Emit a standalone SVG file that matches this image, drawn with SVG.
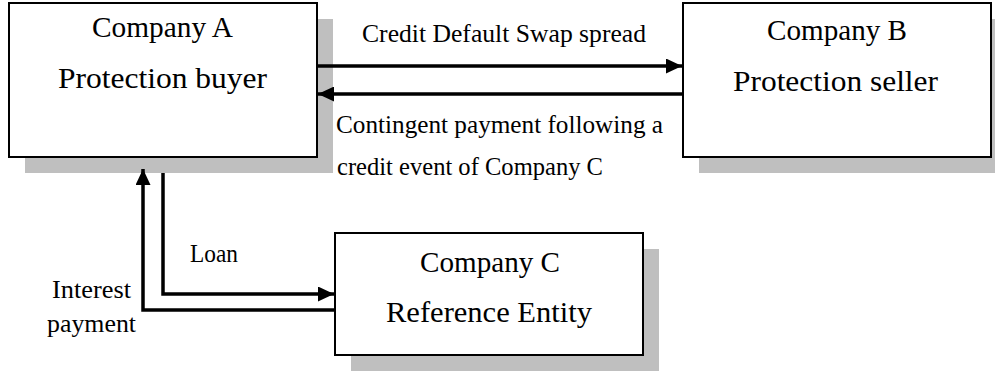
<svg xmlns="http://www.w3.org/2000/svg" width="995" height="372" viewBox="0 0 995 372">
<style>
.shadow{fill:#bfbfbf;stroke:none}
.box{fill:#ffffff;stroke:#000000;stroke-width:2}
.big{font-family:"Liberation Serif","Times New Roman",serif;font-size:30px;fill:#000}
.lbl{font-family:"Liberation Serif","Times New Roman",serif;font-size:24.5px;fill:#000}
.conn{fill:none;stroke:#000;stroke-width:3.5;stroke-linejoin:miter;stroke-linecap:butt}
</style>
<defs>
<marker id="ah" markerUnits="userSpaceOnUse" markerWidth="16" markerHeight="15" refX="16" refY="7.5" orient="auto" viewBox="0 0 16 15">
<path d="M0,0 L16,7.5 L0,15 z" fill="#000"/>
</marker>
</defs>
<rect width="995" height="372" fill="#ffffff"/>
<g id="companyA">
<rect class="shadow" x="25" y="19" width="308" height="154"/>
<rect class="box" x="9" y="3" width="308" height="154"/>
<text class="big" x="92" y="37" textLength="141" lengthAdjust="spacingAndGlyphs">Company A</text>
<text class="big" x="58" y="88" textLength="209" lengthAdjust="spacingAndGlyphs">Protection buyer</text>
</g>
<g id="companyB">
<rect class="shadow" x="699" y="19" width="308" height="154"/>
<rect class="box" x="683" y="3" width="308" height="154"/>
<text class="big" x="767" y="40" textLength="140" lengthAdjust="spacingAndGlyphs">Company B</text>
<text class="big" x="733" y="91" textLength="205" lengthAdjust="spacingAndGlyphs">Protection seller</text>
</g>
<g id="companyC">
<rect class="shadow" x="351" y="249" width="308" height="122"/>
<rect class="box" x="335" y="233" width="308" height="122"/>
<text class="big" x="420" y="272" textLength="140" lengthAdjust="spacingAndGlyphs">Company C</text>
<text class="big" x="386" y="322" textLength="206" lengthAdjust="spacingAndGlyphs">Reference Entity</text>
</g>
<g id="connectors">
<line class="conn" x1="317" y1="66" x2="682" y2="66" marker-end="url(#ah)"/>
<line class="conn" x1="683" y1="94" x2="318" y2="94" marker-end="url(#ah)"/>
<polyline class="conn" points="163,173 163,294 334,294" marker-end="url(#ah)"/>
<polyline class="conn" points="335,310 143,310 143,169" marker-end="url(#ah)"/>
</g>
<g id="labels">
<text class="lbl" x="362" y="42" textLength="284" lengthAdjust="spacingAndGlyphs">Credit Default Swap spread</text>
<text class="lbl" x="336" y="133" textLength="327" lengthAdjust="spacingAndGlyphs">Contingent payment following a</text>
<text class="lbl" x="337" y="175" textLength="266" lengthAdjust="spacingAndGlyphs">credit event of Company C</text>
<text class="lbl" x="190" y="262" textLength="48" lengthAdjust="spacingAndGlyphs">Loan</text>
<text class="lbl" x="52" y="298" textLength="79" lengthAdjust="spacingAndGlyphs">Interest</text>
<text class="lbl" x="47" y="332" textLength="89" lengthAdjust="spacingAndGlyphs">payment</text>
</g>
</svg>
